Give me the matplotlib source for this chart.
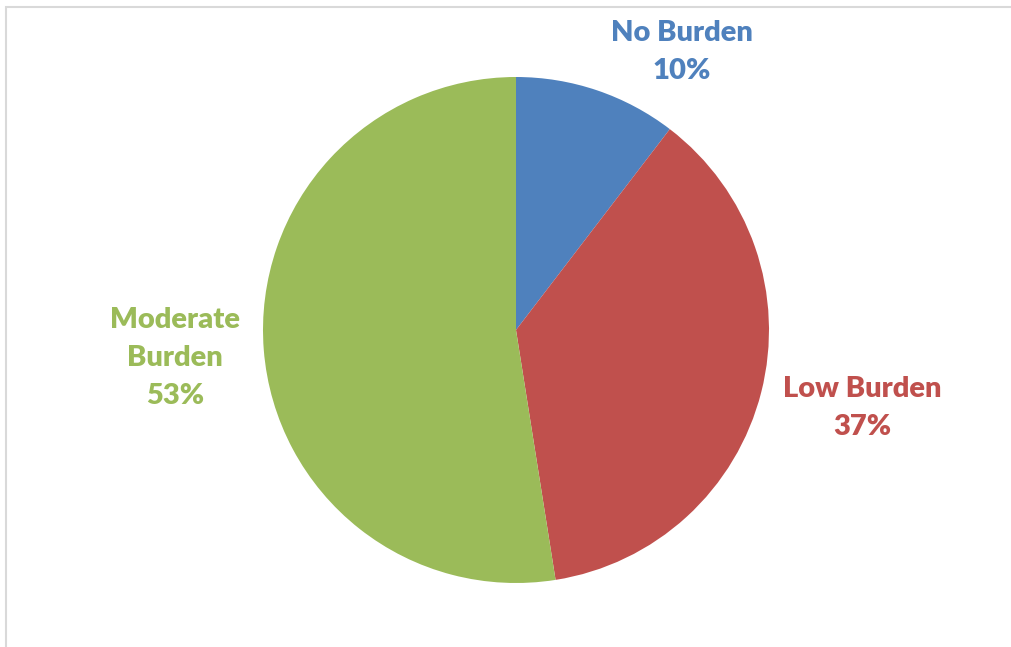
import matplotlib
matplotlib.use("Agg")
import matplotlib.pyplot as plt
from matplotlib.patches import Rectangle

categories = ["No Burden", "Low Burden", "Moderate Burden"]
values = [10.4, 37.1, 52.5]
label_texts = ["No Burden\n10%", "Low Burden\n37%", "Moderate\nBurden\n53%"]
colors = ["#4F81BD", "#C0504D", "#9BBB59"]

W, H = 1012, 647
fig = plt.figure(figsize=(W / 100, H / 100), dpi=100)
ax = fig.add_axes([0, 0, 1, 1])
ax.set_xlim(0, W)
ax.set_ylim(0, H)
ax.set_aspect("equal")
ax.axis("off")

ax.pie(values, colors=colors, startangle=90, counterclock=False,
       center=(516, H - 330), radius=253, frame=True,
       wedgeprops=dict(linewidth=0))
ax.axis("off")
ax.set_xlim(0, W)
ax.set_ylim(0, H)

label_pos = [(682, H - 52), (862, H - 408), (175, H - 358)]
for txt, (x, y), c in zip(label_texts, label_pos, colors):
    ax.text(x, y, txt, color=c, ha="center", va="center", fontsize=21,
            fontweight="heavy", family="Lato", linespacing=1.55)

fig.patches.append(Rectangle((6 / W, -0.1), 1.2, 1.1 - 7.5 / H, transform=fig.transFigure,
                             fill=False, edgecolor="#D9D9D9", linewidth=1.5))

fig.savefig("out.png", dpi=100, facecolor="white")
